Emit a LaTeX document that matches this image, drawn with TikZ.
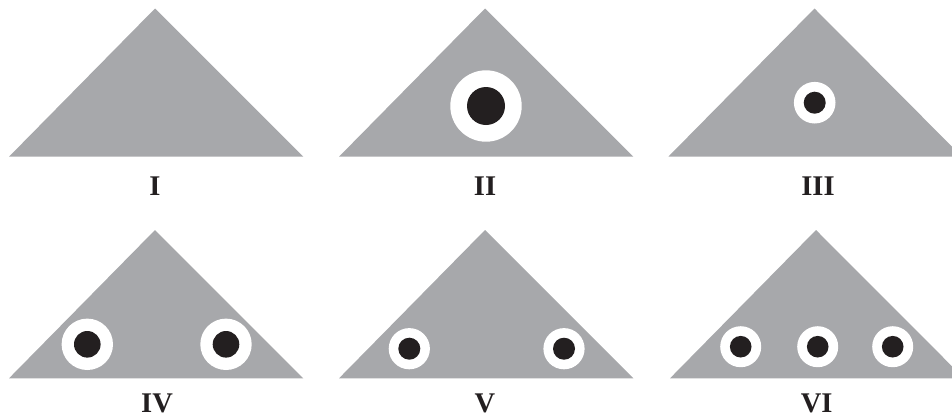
\documentclass[tikz,border=0pt]{standalone}
\usepackage{fontspec}
\setmainfont{Liberation Serif}
\definecolor{tri}{HTML}{A7A8AB}
\definecolor{ink}{HTML}{231F20}
\begin{document}
\begin{tikzpicture}[x=1pt,y=-1pt,
  trishape/.style={fill=tri},
  ring/.style={fill=white},
  pupil/.style={fill=ink},
  lbl/.style={anchor=base,inner sep=0pt,text=ink,font=\fontsize{28.5}{30}\selectfont\bfseries}]
\useasboundingbox (0,0) rectangle (952,418);
\clip (0,0) rectangle (952,418);
% row 1
\fill[trishape] (9,156.7) -- (155,8.5) -- (303.3,156.7) -- cycle;
\fill[trishape] (339,156.7) -- (485,8.5) -- (633.3,156.7) -- cycle;
\fill[trishape] (668.3,156.7) -- (814.5,8.5) -- (962,156.7) -- cycle;
\fill[ring] (486,106) circle (35.7);
\fill[pupil] (486,106) circle (19);
\fill[ring] (814.7,102.7) circle (20.8);
\fill[pupil] (814.7,102.7) circle (11);
\node[lbl] (l1) at (155,195.5) {I};
\node[lbl] (l2) at (485,195.5) {II};
\node[lbl] (l3) at (818,195.5) {III};
% row 2
\fill[trishape] (9,378.3) -- (155,230) -- (303.3,378.3) -- cycle;
\fill[trishape] (339,378.3) -- (485,230) -- (633.3,378.3) -- cycle;
\fill[trishape] (670,378.3) -- (816,230) -- (964,378.3) -- cycle;
\foreach \cx in {87.3,226}{
  \fill[ring] (\cx,344.3) circle (25.7);
  \fill[pupil] (\cx,344.3) circle (13.3);
}
\foreach \cx in {409.3,564}{
  \fill[ring] (\cx,348.7) circle (20.6);
  \fill[pupil] (\cx,348.7) circle (11);
}
\foreach \cx in {740.7,817.7,892.7}{
  \fill[ring] (\cx,346.7) circle (20.5);
  \fill[pupil] (\cx,346.7) circle (10.8);
}
\node[lbl] (l4) at (157,412) {IV};
\node[lbl] (l5) at (485,412) {V};
\node[lbl] (l6) at (816.7,412) {VI};
\end{tikzpicture}
\end{document}
